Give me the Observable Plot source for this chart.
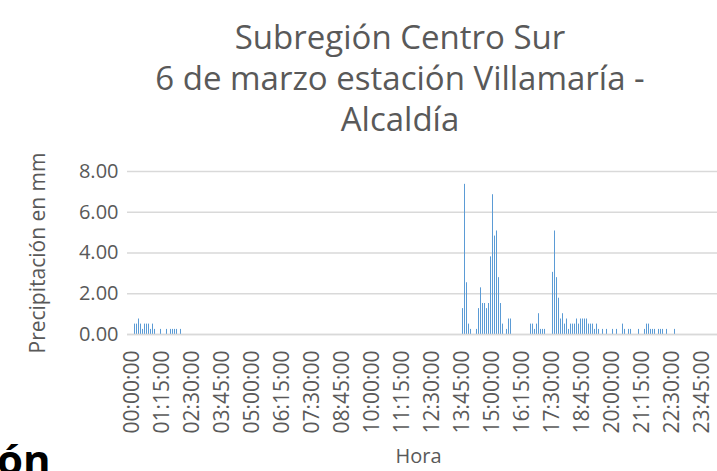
<!DOCTYPE html>
<html>
<head>
<meta charset="utf-8">
<script src="https://cdn.jsdelivr.net/npm/d3@7"></script>
<script src="https://cdn.jsdelivr.net/npm/@observablehq/plot@0.6"></script>
<style>
  html, body { margin: 0; padding: 0; background: #fff; overflow: hidden; }
  #wrap { position: relative; width: 717px; height: 471px; overflow: hidden; font-family: "Open Sans", sans-serif; }
  #title { position: absolute; left: 0; width: 800px; top: 16px; text-align: center; color: #595959; font-size: 33px; line-height: 41px; }
  #frag { position: absolute; left: -3px; top: 434px; font-family: "Open Sans", sans-serif; font-weight: bold; font-size: 42px; line-height: 50px; color: #000; }
  #chart { position: absolute; left: 0; top: 0; }
</style>
</head>
<body>
<div id="wrap">
  <div id="chart"></div>
  <div id="title">Subregión Centro Sur<br>6 de marzo estación Villamaría -<br>Alcaldía</div>
  <div id="frag">ón</div>
</div>
<script>
// Hours of the day (24 hours, 5-minute records each)
const hours = ["00","01","02","03","04","05","06","07","08","09","10","11","12","13","14","15","16","17","18","19","20","21","22","23"];
const minutes = ["00","05","10","15","20","25","30","35","40","45","50","55"];

// Precipitation (mm), one row of 12 five-minute values per hour
const rainMm = [
  0.51,0.51,0.76,0.51,0.25,0.51,0.51,0.51,0.25,0.51,0.25,0,      // 00
  0,0.25,0,0,0.25,0,0.25,0.25,0.25,0.25,0,0.25,                  // 01
  0,0,0,0,0,0,0,0,0,0,0,0,                                       // 02
  0,0,0,0,0,0,0,0,0,0,0,0,                                       // 03
  0,0,0,0,0,0,0,0,0,0,0,0,                                       // 04
  0,0,0,0,0,0,0,0,0,0,0,0,                                       // 05
  0,0,0,0,0,0,0,0,0,0,0,0,                                       // 06
  0,0,0,0,0,0,0,0,0,0,0,0,                                       // 07
  0,0,0,0,0,0,0,0,0,0,0,0,                                       // 08
  0,0,0,0,0,0,0,0,0,0,0,0,                                       // 09
  0,0,0,0,0,0,0,0,0,0,0,0,                                       // 10
  0,0,0,0,0,0,0,0,0,0,0,0,                                       // 11
  0,0,0,0,0,0,0,0,0,0,0,0,                                       // 12
  0,0,0,0,0,0,0,0,1.27,7.37,2.54,0.51,                           // 13
  0.25,0,0,0.25,1.27,2.29,1.52,1.52,1.27,1.52,3.81,6.86,         // 14
  4.83,5.08,2.79,1.52,0.51,0,0.25,0.76,0.76,0,0,0,               // 15
  0,0,0,0,0,0,0.51,0.51,0.25,0.51,1.02,0.25,                     // 16
  0.25,0.25,0,0,0,3.05,5.08,2.79,1.78,0.76,1.02,0.51,            // 17
  0.76,0.25,0.51,0.51,0.51,0.76,0.51,0.76,0.76,0.76,0.76,0.51,   // 18
  0.51,0.51,0.25,0.51,0.25,0,0.25,0,0.25,0,0,0.25,               // 19
  0,0.25,0,0,0.51,0.25,0,0.25,0.25,0,0,0,                        // 20
  0.25,0,0,0.25,0.51,0.51,0.25,0.25,0.25,0,0.25,0.25,            // 21
  0.25,0,0.25,0,0,0,0.25,0,0,0,0,0,                              // 22
  0,0,0,0,0,0,0,0,0,0,0,0                                        // 23
];

// Category labels shown on the x axis
const tickLabels = ["00:00:00","01:15:00","02:30:00","03:45:00","05:00:00","06:15:00","07:30:00","08:45:00","10:00:00","11:15:00","12:30:00","13:45:00","15:00:00","16:15:00","17:30:00","18:45:00","20:00:00","21:15:00","22:30:00","23:45:00"];
const yTicks = [0, 2, 4, 6, 8];

const times = hours.flatMap(h => minutes.map(m => `${h}:${m}:00`));
const data = times.map((t, i) => ({hora: t, mm: rainMm[i]}));

const chart = Plot.plot({
  width: 717,
  height: 471,
  marginTop: 171,
  marginBottom: 137,
  marginLeft: 127,
  marginRight: 0,
  style: {fontFamily: "Open Sans, sans-serif", color: "#595959", background: "transparent"},
  x: {type: "band", domain: times, padding: 0.4, axis: null},
  y: {domain: [0, 8], axis: null},
  marks: [
    Plot.gridY(yTicks, {stroke: "#d9d9d9", strokeOpacity: 1, strokeWidth: 1.3}),
    Plot.barY(data, {x: "hora", y: "mm", fill: "#5b9bd5"}),
    Plot.ruleY([0], {stroke: "#d9d9d9", strokeWidth: 1.3}),
    Plot.axisY(yTicks, {tickSize: 0, tickPadding: 9, tickFormat: d3.format(".2f"), fontSize: 20, fill: "#595959", label: null}),
    Plot.axisX(tickLabels, {tickSize: 0, tickPadding: 16, tickRotate: -90, fontSize: 21, fill: "#595959", label: null, dx: -3}),
    Plot.text(["Precipitación en mm"], {frameAnchor: "left", textAnchor: "middle", dx: -89, rotate: -90, fontSize: 21, fill: "#595959"}),
    Plot.text(["Hora"], {frameAnchor: "bottom", dy: 128, dx: -4, fontSize: 20, fill: "#595959"})
  ]
});
document.getElementById("chart").appendChild(chart);
</script>
</body>
</html>
